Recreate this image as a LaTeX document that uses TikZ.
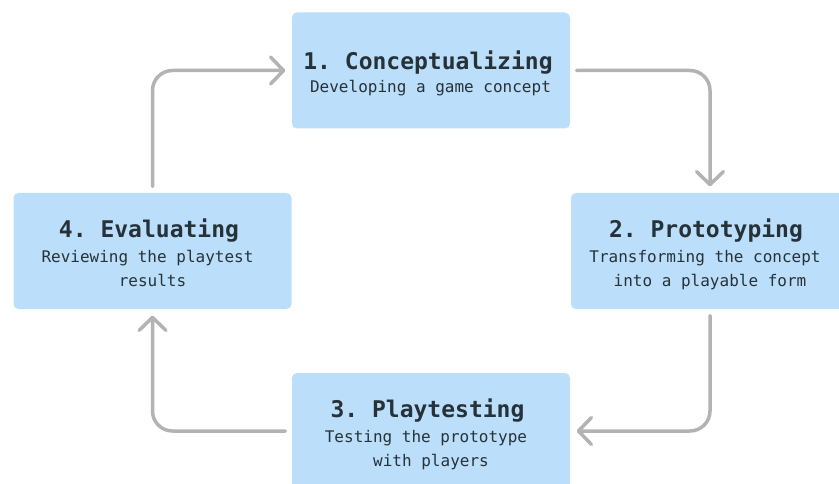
\documentclass[tikz,border=0pt]{standalone}
\usepackage{fontspec}
\setmonofont{DejaVu Sans Mono}
\usetikzlibrary{arrows.meta}
\definecolor{boxfill}{HTML}{BBDEFB}
\definecolor{ink}{HTML}{263238}
\definecolor{flow}{HTML}{B3B3B3}
\tikzset{
  x=1pt, y=-1pt,
  stage/.style={fill=boxfill, draw=none, rounded corners=5pt,
    minimum width=278pt, minimum height=116pt, inner sep=0pt},
  heading/.style={anchor=base, text=ink, inner sep=0pt,
    font=\ttfamily\bfseries\fontsize{23}{25}\selectfont},
  caption/.style={anchor=base, text=ink, inner sep=0pt,
    font=\ttfamily\fontsize{16}{24.5}\selectfont},
  cycle/.style={draw=flow, line width=3.5pt, rounded corners=20pt,
    line cap=round, line join=round,
    -{Straight Barb[length=13pt,width=27pt,line cap=round,line join=round]},
    shorten <=6.5pt, shorten >=6.5pt}
}
\begin{document}
\begin{tikzpicture}
\useasboundingbox (0,0) rectangle (839,484);

% stage boxes
\node[stage] (b1) at (431,70.5) {};
\node[stage] (b2) at (710,251) {};
\node[stage] (b3) at (431,431) {};
\node[stage] (b4) at (152.5,251) {};

% stage texts
\node[heading] (h1) at (428,70) {1. Conceptualizing};
\node[caption] (c1) at (430.5,93) {Developing a game concept};

\node[heading] (h2) at (706,237) {2. Prototyping};
\node[caption] (c2a) at (705,262) {Transforming the concept};
\node[caption] (c2b) at (710,286.5) {into a playable form};

\node[heading] (h3) at (427.5,417) {3. Playtesting};
\node[caption] (c3a) at (426,442) {Testing the prototype};
\node[caption] (c3b) at (431,466.5) {with players};

\node[heading] (h4) at (149,237) {4. Evaluating};
\node[caption] (c4a) at (147.5,262) {Reviewing the playtest};
\node[caption] (c4b) at (152.5,286.5) {results};

% cycle connectors
\draw[cycle] (b4.north) |- (b1.west);
\draw[cycle] (b1.east) -| (b2.north);
\draw[cycle] (b2.south) |- (b3.east);
\draw[cycle] (b3.west) -| (b4.south);
\end{tikzpicture}
\end{document}
